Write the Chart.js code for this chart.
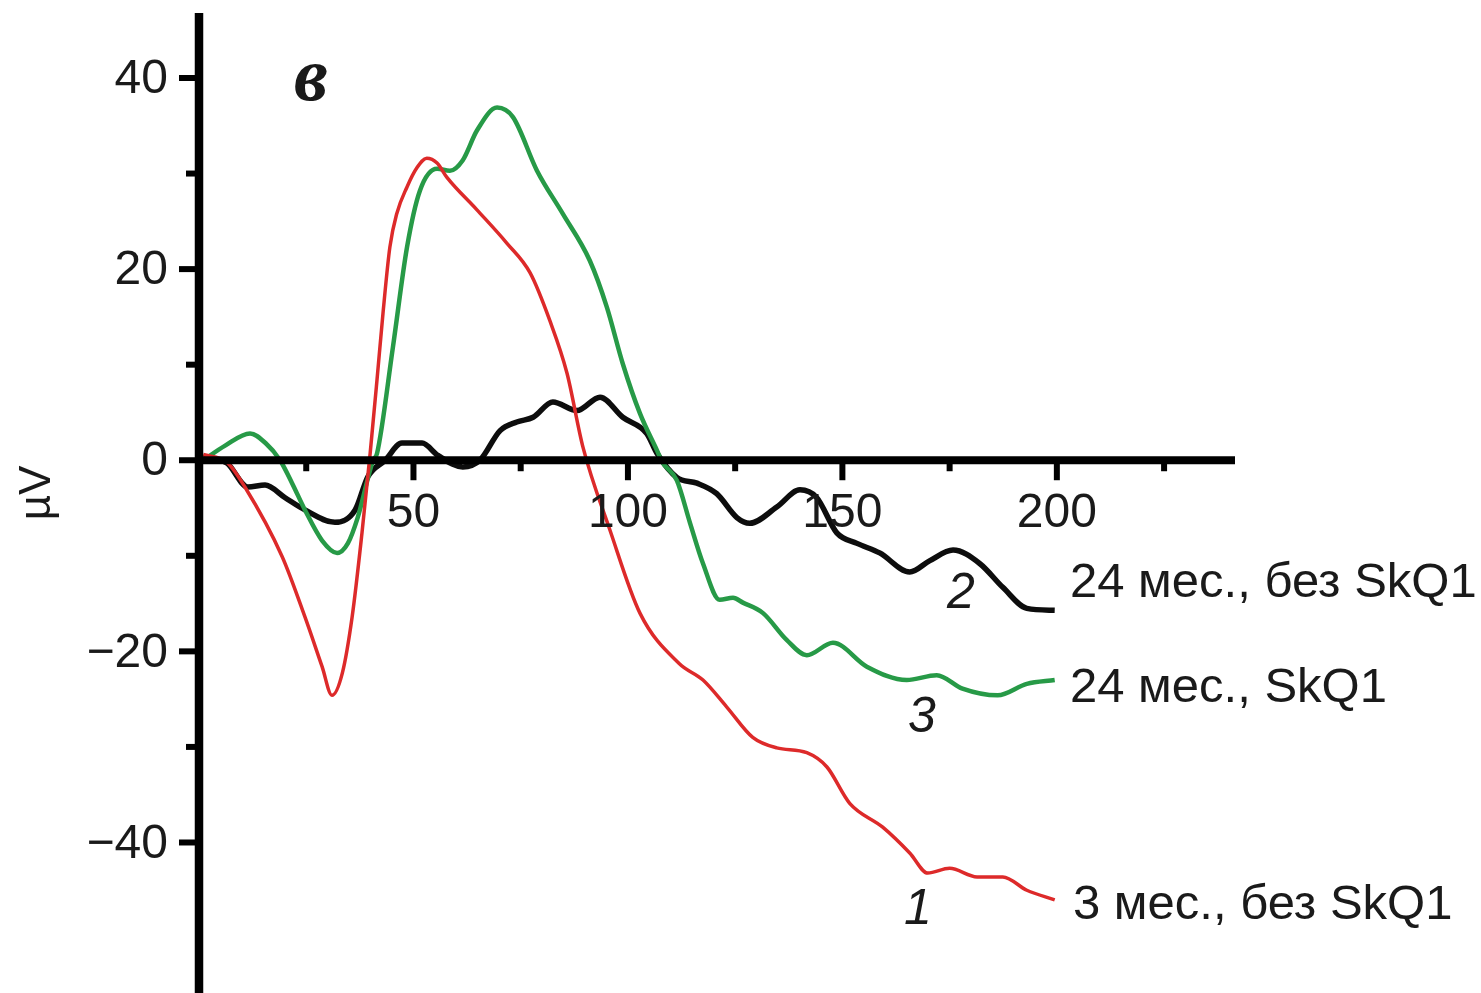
<!DOCTYPE html>
<html>
<head>
<meta charset="utf-8">
<script src="https://cdn.jsdelivr.net/npm/chart.js@4"></script>
<style>
  html, body { margin: 0; padding: 0; background: #fff; }
  #wrap { width: 1481px; height: 993px; }
</style>
</head>
<body>
<div id="wrap"><canvas id="erpChart" width="1481" height="993"></canvas></div>
<script>
// time (ms) and amplitude (µV), per curve
const redT = [1, 6.5, 10.7, 19.4, 24.7, 28.7, 31, 33.4, 35.7, 38, 39.9, 41.5, 42.9, 44.5, 46.1, 48.5, 50.8, 53.1, 55.5, 57.8, 64.8, 71.8, 77.2, 81.8, 85.8, 89.5, 95.8, 102.8, 112, 117.5, 123, 129.1, 134.7, 141.7, 146.4, 151.7, 159.4, 165.7, 169.9, 175, 181.4, 187.4, 193, 199.5];
const redV = [0.6, -0.2, -2.8, -10.1, -16.4, -21.6, -24.6, -22.3, -16.4, -7.6, 0.7, 8.4, 15.4, 22.3, 25.8, 28.6, 30.6, 31.6, 31.1, 29.6, 26.2, 22.7, 19.6, 14.6, 9.1, 1.4, -7.3, -16, -21.3, -23, -25.8, -29, -30.1, -30.6, -32.1, -35.9, -38.4, -41.1, -43.2, -42.7, -43.6, -43.6, -45, -46];

const greenT = [1, 6, 11.9, 15.5, 18.9, 21.7, 24.7, 28.7, 32.2, 34.7, 37, 40.6, 41.5, 45.2, 48.5, 51.5, 55.5, 58.5, 61.5, 64.8, 69.5, 73.2, 78.8, 84.8, 91.1, 95.1, 98.8, 102.8, 106.8, 108, 111.4, 114.5, 117.5, 121.4, 124.5, 126.8, 131.5, 137, 141.7, 147.8, 155.7, 165, 172, 178, 186.2, 193, 199.5];
const greenV = [0, 1.5, 2.8, 1.8, 0, -2.4, -5.2, -8.4, -9.7, -8.7, -6, 0, 0.7, 11.8, 22.3, 28.2, 30.5, 30.3, 31.4, 34.5, 36.9, 35.9, 30.3, 25.8, 20.9, 16, 10.1, 4.9, 1, -0.2, -2.1, -6.6, -10.8, -14.6, -14.4, -14.9, -16, -18.8, -20.4, -19.1, -21.6, -23, -22.5, -23.9, -24.6, -23.4, -23];

const blackT = [1, 6.5, 11.4, 15.4, 20, 24.7, 31.7, 36.4, 39.4, 43.4, 47.3, 52, 55.7, 61.5, 65.5, 70.2, 74.1, 77.9, 82.5, 88.1, 93.5, 98.8, 104.4, 106.8, 111.4, 116.1, 120.7, 125.4, 128.4, 134.7, 140.1, 144, 148.7, 153.4, 158.7, 165.7, 170.4, 175.8, 182, 187.4, 193, 199.5];
const blackV = [0.3, -0.3, -2.8, -2.6, -3.9, -5.2, -6.5, -5.2, -1.7, 0, 1.8, 1.8, 0.5, -0.7, 0, 3.1, 4, 4.5, 6.1, 5.2, 6.6, 4.5, 2.8, 0.7, -1.8, -2.4, -3.5, -6, -6.6, -4.9, -3.1, -3.9, -7.6, -8.7, -9.7, -11.7, -10.5, -9.4, -10.8, -13.3, -15.5, -15.7];

const xMajorTicks = [50, 100, 150, 200];
const xMinorTicks = [25, 75, 125, 175, 225];
const yMajorTicks = [40, 20, 0, -20, -40];
const yMinorTicks = [30, 10, -10, -30];
const yTickLabels = ['40', '20', '0', '\u221220', '\u221240'];

const seriesNames = ['3 мес., без SkQ1', '24 мес., без SkQ1', '24 мес., SkQ1'];

function toPoints(ts, vs) {
    return ts.map((t, i) => ({ x: t, y: vs[i] }));
}

// axes, ticks and all the text are drawn by hand on top of the curves
const axesPlugin = {
    id: 'axesPlugin',
    afterDatasetsDraw(c) {
        const ctx = c.ctx;
        const xs = c.scales.x;
        const ys = c.scales.y;
        const x0 = xs.getPixelForValue(0);
        const y0 = ys.getPixelForValue(0);
        ctx.save();
        ctx.strokeStyle = '#000';
        ctx.lineCap = 'butt';

        // y axis
        ctx.lineWidth = 8.5;
        ctx.beginPath();
        ctx.moveTo(x0, c.chartArea.top);
        ctx.lineTo(x0, c.chartArea.bottom);
        ctx.stroke();

        // x axis
        ctx.lineWidth = 8;
        ctx.beginPath();
        ctx.moveTo(x0, y0);
        ctx.lineTo(xs.getPixelForValue(xs.max) - 2, y0);
        ctx.stroke();

        // ticks
        ctx.lineWidth = 6;
        yMajorTicks.forEach(v => {
            const y = ys.getPixelForValue(v);
            ctx.beginPath(); ctx.moveTo(x0 - 20, y); ctx.lineTo(x0, y); ctx.stroke();
        });
        yMinorTicks.forEach(v => {
            const y = ys.getPixelForValue(v);
            ctx.beginPath(); ctx.moveTo(x0 - 13, y); ctx.lineTo(x0, y); ctx.stroke();
        });
        xMajorTicks.forEach(t => {
            const x = xs.getPixelForValue(t);
            ctx.beginPath(); ctx.moveTo(x, y0); ctx.lineTo(x, y0 + 20); ctx.stroke();
        });
        xMinorTicks.forEach(t => {
            const x = xs.getPixelForValue(t);
            ctx.beginPath(); ctx.moveTo(x, y0); ctx.lineTo(x, y0 + 11); ctx.stroke();
        });

        // tick labels
        ctx.fillStyle = '#1a1a1a';
        ctx.font = '48px "Liberation Sans", Arial, sans-serif';
        ctx.textAlign = 'right';
        ctx.textBaseline = 'middle';
        yMajorTicks.forEach((v, i) => {
            ctx.fillText(yTickLabels[i], x0 - 31, ys.getPixelForValue(v) + 2);
        });
        ctx.textAlign = 'center';
        xMajorTicks.forEach(t => {
            ctx.fillText(String(t), xs.getPixelForValue(t), y0 + 54);
        });

        // axis title
        ctx.save();
        ctx.translate(38, 493);
        ctx.rotate(-Math.PI / 2);
        ctx.font = '44px "Liberation Sans", Arial, sans-serif';
        ctx.fillText('µV', 0, 0);
        ctx.restore();

        // panel letter
        ctx.font = 'italic bold 76px "Liberation Serif", "DejaVu Serif", serif';
        ctx.fillText('в', 311, 80);

        // series names at line ends
        ctx.font = '49px "Liberation Sans", Arial, sans-serif';
        ctx.textAlign = 'left';
        ctx.fillText(seriesNames[1], 1070, 583);
        ctx.fillText(seriesNames[2], 1070, 688);
        ctx.fillText(seriesNames[0], 1073, 905);

        // curve numbers
        ctx.font = 'italic 50px "Liberation Sans", Arial, sans-serif';
        ctx.textAlign = 'center';
        ctx.fillText('2', 961, 594);
        ctx.fillText('3', 922, 718);
        ctx.fillText('1', 918, 910);

        ctx.restore();
    }
};

const chart = new Chart(document.getElementById('erpChart').getContext('2d'), {
    type: 'line',
    data: {
        datasets: [
            {
                label: seriesNames[0],
                data: toPoints(redT, redV),
                borderColor: '#dd2a2a',
                borderWidth: 3.5,
                pointRadius: 0,
                cubicInterpolationMode: 'monotone'
            },
            {
                label: seriesNames[2],
                data: toPoints(greenT, greenV),
                borderColor: '#279a47',
                borderWidth: 4.5,
                pointRadius: 0,
                cubicInterpolationMode: 'monotone'
            },
            {
                label: seriesNames[1],
                data: toPoints(blackT, blackV),
                borderColor: '#0d0d0d',
                borderWidth: 5.5,
                pointRadius: 0,
                cubicInterpolationMode: 'monotone'
            }
        ]
    },
    options: {
        responsive: false,
        animation: false,
        devicePixelRatio: 1,
        layout: { padding: { left: 199, top: 13, right: 244, bottom: 0 } },
        scales: {
            x: { type: 'linear', min: 0, max: 242, display: false },
            y: { type: 'linear', min: -55.75, max: 46.8, display: false }
        },
        plugins: {
            legend: { display: false },
            tooltip: { enabled: false }
        }
    },
    plugins: [axesPlugin]
});
</script>
</body>
</html>
